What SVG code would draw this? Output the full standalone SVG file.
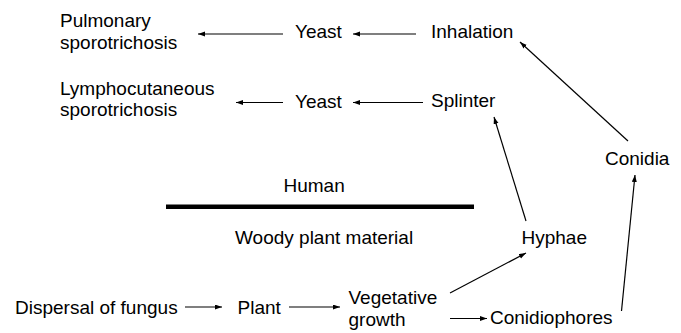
<svg xmlns="http://www.w3.org/2000/svg" width="681" height="333" viewBox="0 0 681 333">
<defs>
<marker id="ah" markerUnits="userSpaceOnUse" markerWidth="8" markerHeight="6" refX="7" refY="2.5" orient="auto">
<path d="M0,0 L7,2.5 L0,5 z" fill="#000"/>
</marker>
<style>
text{font-family:"Liberation Sans",Arial,sans-serif;font-size:19px;fill:#000}
.c{stroke:#000;stroke-width:1.2;fill:none;marker-end:url(#ah)}
</style>
</defs>
<rect width="681" height="333" fill="#fff"/>
<g id="pulmonary"><text x="60" y="26.5">Pulmonary</text><text x="60" y="48.5">sporotrichosis</text></g>
<g id="yeast1"><text x="295" y="38">Yeast</text></g>
<g id="inhalation"><text x="431" y="37.5">Inhalation</text></g>
<g id="lympho"><text x="60" y="95">Lymphocutaneous</text><text x="60" y="115.5">sporotrichosis</text></g>
<g id="yeast2"><text x="295" y="108">Yeast</text></g>
<g id="splinter"><text x="431" y="107">Splinter</text></g>
<g id="conidia"><text x="605" y="165">Conidia</text></g>
<g id="human"><text x="283.5" y="192">Human</text></g>
<g id="divider"><rect x="166" y="204.5" width="308" height="4.5" fill="#000"/></g>
<g id="woody"><text x="235" y="244">Woody plant material</text></g>
<g id="hyphae"><text x="521.5" y="243.5">Hyphae</text></g>
<g id="dispersal"><text x="15" y="313.5">Dispersal of fungus</text></g>
<g id="plant"><text x="237.5" y="313.5">Plant</text></g>
<g id="vegetative"><text x="348.5" y="303.5">Vegetative</text><text x="348.5" y="325.5">growth</text></g>
<g id="conidiophores"><text x="490" y="323.5">Conidiophores</text></g>
<g id="connectors">
<line class="c" x1="283" y1="34" x2="198" y2="34"/>
<line class="c" x1="416" y1="34" x2="353" y2="34"/>
<line class="c" x1="283" y1="102.5" x2="236" y2="102.5"/>
<line class="c" x1="423" y1="102.5" x2="353" y2="102.5"/>
<line class="c" x1="628" y1="141" x2="520" y2="42"/>
<line class="c" x1="526" y1="221" x2="494" y2="117"/>
<line class="c" x1="185" y1="307" x2="222" y2="307"/>
<line class="c" x1="289" y1="307" x2="340" y2="307"/>
<line class="c" x1="450" y1="293" x2="526" y2="253"/>
<line class="c" x1="450" y1="318.5" x2="487" y2="318.5"/>
<line class="c" x1="621.5" y1="311" x2="635" y2="175"/>
</g>
</svg>
